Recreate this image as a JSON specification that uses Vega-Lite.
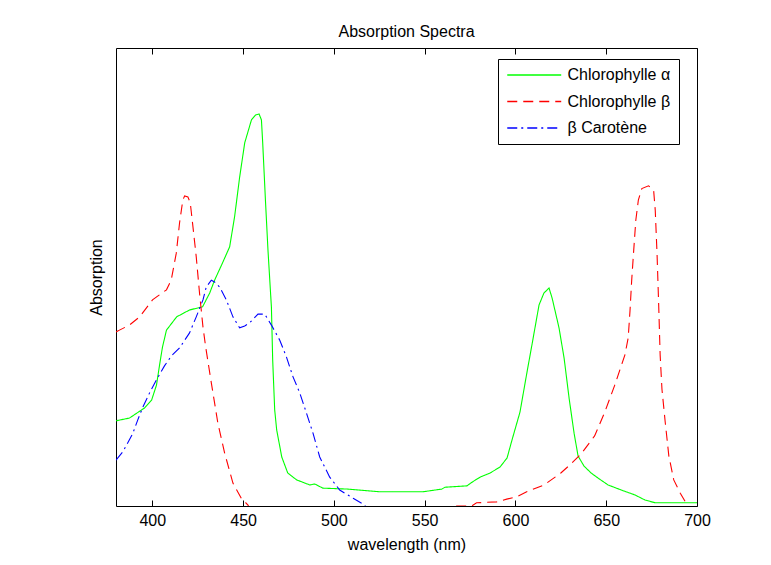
{
  "$schema": "https://vega.github.io/schema/vega-lite/v6.json",
  "width": 581,
  "height": 458,
  "autosize": {"type": "none"},
  "padding": {"left": 116, "top": 48, "right": 74, "bottom": 59},
  "background": "white",
  "title": {"text": "Absorption Spectra", "font": "Liberation Sans", "fontSize": 16, "fontWeight": "normal", "color": "black", "offset": 8},
  "datasets": {
    "spectra": [
      {"s": "Chlorophylle α", "nm": 380, "a": 0.186},
      {"s": "Chlorophylle α", "nm": 387.4, "a": 0.192},
      {"s": "Chlorophylle α", "nm": 395.7, "a": 0.214},
      {"s": "Chlorophylle α", "nm": 399.6, "a": 0.231},
      {"s": "Chlorophylle α", "nm": 402.3, "a": 0.264},
      {"s": "Chlorophylle α", "nm": 404, "a": 0.308},
      {"s": "Chlorophylle α", "nm": 405.6, "a": 0.347},
      {"s": "Chlorophylle α", "nm": 407.8, "a": 0.384},
      {"s": "Chlorophylle α", "nm": 413.4, "a": 0.413},
      {"s": "Chlorophylle α", "nm": 420.5, "a": 0.428},
      {"s": "Chlorophylle α", "nm": 427.7, "a": 0.435},
      {"s": "Chlorophylle α", "nm": 431.6, "a": 0.465},
      {"s": "Chlorophylle α", "nm": 434.3, "a": 0.493},
      {"s": "Chlorophylle α", "nm": 438.7, "a": 0.531},
      {"s": "Chlorophylle α", "nm": 442.6, "a": 0.566},
      {"s": "Chlorophylle α", "nm": 445.3, "a": 0.631},
      {"s": "Chlorophylle α", "nm": 448.1, "a": 0.718},
      {"s": "Chlorophylle α", "nm": 450.9, "a": 0.793},
      {"s": "Chlorophylle α", "nm": 454.6, "a": 0.843},
      {"s": "Chlorophylle α", "nm": 456.9, "a": 0.854},
      {"s": "Chlorophylle α", "nm": 458.8, "a": 0.856},
      {"s": "Chlorophylle α", "nm": 460.1, "a": 0.843},
      {"s": "Chlorophylle α", "nm": 460.8, "a": 0.793},
      {"s": "Chlorophylle α", "nm": 462.3, "a": 0.668},
      {"s": "Chlorophylle α", "nm": 463.7, "a": 0.559},
      {"s": "Chlorophylle α", "nm": 465.6, "a": 0.434},
      {"s": "Chlorophylle α", "nm": 466.3, "a": 0.319},
      {"s": "Chlorophylle α", "nm": 467.4, "a": 0.21},
      {"s": "Chlorophylle α", "nm": 468.5, "a": 0.166},
      {"s": "Chlorophylle α", "nm": 471.3, "a": 0.107},
      {"s": "Chlorophylle α", "nm": 474.6, "a": 0.072},
      {"s": "Chlorophylle α", "nm": 479.5, "a": 0.057},
      {"s": "Chlorophylle α", "nm": 486.7, "a": 0.046},
      {"s": "Chlorophylle α", "nm": 489.5, "a": 0.048},
      {"s": "Chlorophylle α", "nm": 493.9, "a": 0.039},
      {"s": "Chlorophylle α", "nm": 507.1, "a": 0.037},
      {"s": "Chlorophylle α", "nm": 525.3, "a": 0.031},
      {"s": "Chlorophylle α", "nm": 549, "a": 0.031},
      {"s": "Chlorophylle α", "nm": 559.5, "a": 0.037},
      {"s": "Chlorophylle α", "nm": 561.2, "a": 0.041},
      {"s": "Chlorophylle α", "nm": 573.3, "a": 0.044},
      {"s": "Chlorophylle α", "nm": 576.1, "a": 0.052},
      {"s": "Chlorophylle α", "nm": 580.5, "a": 0.063},
      {"s": "Chlorophylle α", "nm": 586, "a": 0.072},
      {"s": "Chlorophylle α", "nm": 591.5, "a": 0.085},
      {"s": "Chlorophylle α", "nm": 595.4, "a": 0.105},
      {"s": "Chlorophylle α", "nm": 598.1, "a": 0.144},
      {"s": "Chlorophylle α", "nm": 602.5, "a": 0.205},
      {"s": "Chlorophylle α", "nm": 606.4, "a": 0.293},
      {"s": "Chlorophylle α", "nm": 609.1, "a": 0.352},
      {"s": "Chlorophylle α", "nm": 613, "a": 0.439},
      {"s": "Chlorophylle α", "nm": 615.7, "a": 0.465},
      {"s": "Chlorophylle α", "nm": 618.5, "a": 0.476},
      {"s": "Chlorophylle α", "nm": 620.2, "a": 0.454},
      {"s": "Chlorophylle α", "nm": 624, "a": 0.389},
      {"s": "Chlorophylle α", "nm": 626.8, "a": 0.323},
      {"s": "Chlorophylle α", "nm": 629.6, "a": 0.234},
      {"s": "Chlorophylle α", "nm": 632.3, "a": 0.159},
      {"s": "Chlorophylle α", "nm": 634.5, "a": 0.109},
      {"s": "Chlorophylle α", "nm": 637.8, "a": 0.087},
      {"s": "Chlorophylle α", "nm": 641.7, "a": 0.072},
      {"s": "Chlorophylle α", "nm": 645.5, "a": 0.061},
      {"s": "Chlorophylle α", "nm": 651, "a": 0.046},
      {"s": "Chlorophylle α", "nm": 658.2, "a": 0.035},
      {"s": "Chlorophylle α", "nm": 665.9, "a": 0.024},
      {"s": "Chlorophylle α", "nm": 671.4, "a": 0.013},
      {"s": "Chlorophylle α", "nm": 677, "a": 0.007},
      {"s": "Chlorophylle α", "nm": 700, "a": 0.007},
      {"s": "Chlorophylle β", "nm": 380, "a": 0.38},
      {"s": "Chlorophylle β", "nm": 381.9, "a": 0.384},
      {"s": "Chlorophylle β", "nm": 387.4, "a": 0.395},
      {"s": "Chlorophylle β", "nm": 393, "a": 0.413},
      {"s": "Chlorophylle β", "nm": 400.1, "a": 0.45},
      {"s": "Chlorophylle β", "nm": 407.8, "a": 0.472},
      {"s": "Chlorophylle β", "nm": 410.4, "a": 0.493},
      {"s": "Chlorophylle β", "nm": 413.2, "a": 0.552},
      {"s": "Chlorophylle β", "nm": 415, "a": 0.618},
      {"s": "Chlorophylle β", "nm": 416.8, "a": 0.668},
      {"s": "Chlorophylle β", "nm": 417.8, "a": 0.677},
      {"s": "Chlorophylle β", "nm": 419.6, "a": 0.675},
      {"s": "Chlorophylle β", "nm": 420.9, "a": 0.662},
      {"s": "Chlorophylle β", "nm": 422.4, "a": 0.609},
      {"s": "Chlorophylle β", "nm": 424.2, "a": 0.544},
      {"s": "Chlorophylle β", "nm": 426, "a": 0.465},
      {"s": "Chlorophylle β", "nm": 427.9, "a": 0.391},
      {"s": "Chlorophylle β", "nm": 429.4, "a": 0.347},
      {"s": "Chlorophylle β", "nm": 432.5, "a": 0.269},
      {"s": "Chlorophylle β", "nm": 436.1, "a": 0.181},
      {"s": "Chlorophylle β", "nm": 439.8, "a": 0.116},
      {"s": "Chlorophylle β", "nm": 444.4, "a": 0.05},
      {"s": "Chlorophylle β", "nm": 449, "a": 0.017},
      {"s": "Chlorophylle β", "nm": 452.7, "a": 0.002},
      {"s": "Chlorophylle β", "nm": 455, "a": -0.02},
      {"s": "Chlorophylle β", "nm": 564, "a": -0.02},
      {"s": "Chlorophylle β", "nm": 566.7, "a": 0},
      {"s": "Chlorophylle β", "nm": 575.9, "a": 0},
      {"s": "Chlorophylle β", "nm": 578.6, "a": 0.007},
      {"s": "Chlorophylle β", "nm": 589.7, "a": 0.009},
      {"s": "Chlorophylle β", "nm": 595.2, "a": 0.015},
      {"s": "Chlorophylle β", "nm": 600.7, "a": 0.02},
      {"s": "Chlorophylle β", "nm": 606.2, "a": 0.031},
      {"s": "Chlorophylle β", "nm": 615.8, "a": 0.046},
      {"s": "Chlorophylle β", "nm": 625, "a": 0.072},
      {"s": "Chlorophylle β", "nm": 630.6, "a": 0.092},
      {"s": "Chlorophylle β", "nm": 636.2, "a": 0.114},
      {"s": "Chlorophylle β", "nm": 643.6, "a": 0.153},
      {"s": "Chlorophylle β", "nm": 649.2, "a": 0.205},
      {"s": "Chlorophylle β", "nm": 654.7, "a": 0.264},
      {"s": "Chlorophylle β", "nm": 660.3, "a": 0.33},
      {"s": "Chlorophylle β", "nm": 662.1, "a": 0.367},
      {"s": "Chlorophylle β", "nm": 663.1, "a": 0.426},
      {"s": "Chlorophylle β", "nm": 664, "a": 0.491},
      {"s": "Chlorophylle β", "nm": 665, "a": 0.55},
      {"s": "Chlorophylle β", "nm": 666.3, "a": 0.624},
      {"s": "Chlorophylle β", "nm": 667.7, "a": 0.668},
      {"s": "Chlorophylle β", "nm": 669.6, "a": 0.693},
      {"s": "Chlorophylle β", "nm": 673.3, "a": 0.699},
      {"s": "Chlorophylle β", "nm": 676.1, "a": 0.69},
      {"s": "Chlorophylle β", "nm": 677, "a": 0.646},
      {"s": "Chlorophylle β", "nm": 678, "a": 0.55},
      {"s": "Chlorophylle β", "nm": 678.9, "a": 0.439},
      {"s": "Chlorophylle β", "nm": 679.7, "a": 0.33},
      {"s": "Chlorophylle β", "nm": 680.7, "a": 0.255},
      {"s": "Chlorophylle β", "nm": 682.5, "a": 0.183},
      {"s": "Chlorophylle β", "nm": 684.5, "a": 0.109},
      {"s": "Chlorophylle β", "nm": 687.2, "a": 0.057},
      {"s": "Chlorophylle β", "nm": 690.8, "a": 0.028},
      {"s": "Chlorophylle β", "nm": 694.6, "a": 0.002},
      {"s": "Chlorophylle β", "nm": 700, "a": -0.02},
      {"s": "β Carotène", "nm": 380, "a": 0.1},
      {"s": "β Carotène", "nm": 383.7, "a": 0.118},
      {"s": "β Carotène", "nm": 386.5, "a": 0.138},
      {"s": "β Carotène", "nm": 389.3, "a": 0.159},
      {"s": "β Carotène", "nm": 392, "a": 0.188},
      {"s": "β Carotène", "nm": 394.8, "a": 0.216},
      {"s": "β Carotène", "nm": 398.5, "a": 0.247},
      {"s": "β Carotène", "nm": 402.2, "a": 0.275},
      {"s": "β Carotène", "nm": 406.7, "a": 0.306},
      {"s": "β Carotène", "nm": 410.6, "a": 0.328},
      {"s": "β Carotène", "nm": 415, "a": 0.345},
      {"s": "β Carotène", "nm": 420.5, "a": 0.378},
      {"s": "β Carotène", "nm": 424.2, "a": 0.413},
      {"s": "β Carotène", "nm": 427.9, "a": 0.45},
      {"s": "β Carotène", "nm": 429.7, "a": 0.478},
      {"s": "β Carotène", "nm": 432.5, "a": 0.493},
      {"s": "β Carotène", "nm": 434.3, "a": 0.489},
      {"s": "β Carotène", "nm": 437.1, "a": 0.478},
      {"s": "β Carotène", "nm": 440.8, "a": 0.45},
      {"s": "β Carotène", "nm": 444.4, "a": 0.413},
      {"s": "β Carotène", "nm": 448.1, "a": 0.389},
      {"s": "β Carotène", "nm": 450.9, "a": 0.393},
      {"s": "β Carotène", "nm": 453.6, "a": 0.4},
      {"s": "β Carotène", "nm": 458.2, "a": 0.419},
      {"s": "β Carotène", "nm": 461.9, "a": 0.419},
      {"s": "β Carotène", "nm": 465.6, "a": 0.395},
      {"s": "β Carotène", "nm": 470.2, "a": 0.362},
      {"s": "β Carotène", "nm": 473.9, "a": 0.325},
      {"s": "β Carotène", "nm": 477.5, "a": 0.282},
      {"s": "β Carotène", "nm": 481.2, "a": 0.247},
      {"s": "β Carotène", "nm": 484.9, "a": 0.203},
      {"s": "β Carotène", "nm": 488.5, "a": 0.159},
      {"s": "β Carotène", "nm": 492.2, "a": 0.107},
      {"s": "β Carotène", "nm": 497.7, "a": 0.063},
      {"s": "β Carotène", "nm": 503.2, "a": 0.035},
      {"s": "β Carotène", "nm": 510.6, "a": 0.017},
      {"s": "β Carotène", "nm": 517, "a": 0.002},
      {"s": "β Carotène", "nm": 520, "a": -0.02}
    ]
  },
  "data": {"name": "spectra"},
  "layer": [
    {
      "mark": {"type": "line", "strokeWidth": 1.1, "clip": true},
      "encoding": {
        "x": {"field": "nm", "type": "quantitative", "scale": {"domain": [380, 700], "nice": false, "zero": false},
              "axis": {"orient": "bottom", "title": "wavelength (nm)", "values": [400, 450, 500, 550, 600, 650, 700], "tickSize": 6, "offset": -6, "labelPadding": 6, "titlePadding": 8, "labelFlush": false}},
        "y": {"field": "a", "type": "quantitative", "scale": {"domain": [0, 1], "nice": false, "zero": false},
              "axis": {"title": "Absorption", "labels": false, "ticks": false, "titlePadding": 12}},
        "color": {"field": "s", "type": "nominal", "title": null,
                  "scale": {"domain": ["Chlorophylle α", "Chlorophylle β", "β Carotène"], "range": ["#00ff00", "#ff0000", "#0000ff"]}},
        "strokeDash": {"field": "s", "type": "nominal", "title": null,
                  "scale": {"domain": ["Chlorophylle α", "Chlorophylle β", "β Carotène"], "range": [[1, 0], [10, 6], [10, 4, 2, 4]]}},
        "order": {"field": "nm", "type": "quantitative"}
      }
    },
    {
      "mark": {"type": "point", "opacity": 0},
      "encoding": {
        "x": {"field": "nm", "type": "quantitative",
              "axis": {"orient": "top", "title": null, "labels": false, "values": [400, 450, 500, 550, 600, 650, 700], "tickSize": 6, "offset": -6}}
      }
    }
  ],
  "resolve": {"axis": {"x": "independent"}},
  "config": {
    "view": {"stroke": "black", "strokeWidth": 1},
    "axis": {"grid": false, "domain": false, "tickColor": "black", "tickWidth": 1,
             "labelFont": "Liberation Sans", "labelFontSize": 16, "labelColor": "black",
             "titleFont": "Liberation Sans", "titleFontSize": 16, "titleFontWeight": "normal", "titleColor": "black"},
    "legend": {"orient": "none", "legendX": 382, "legendY": 11, "strokeColor": "black", "fillColor": "white",
               "padding": 8, "cornerRadius": 0, "symbolType": "M-1,0L7,0", "symbolSize": 182, "symbolStrokeWidth": 1.5,
               "labelFont": "Liberation Sans", "labelFontSize": 16, "labelColor": "black", "labelOffset": 45.5, "rowPadding": 10.5}
  }
}
